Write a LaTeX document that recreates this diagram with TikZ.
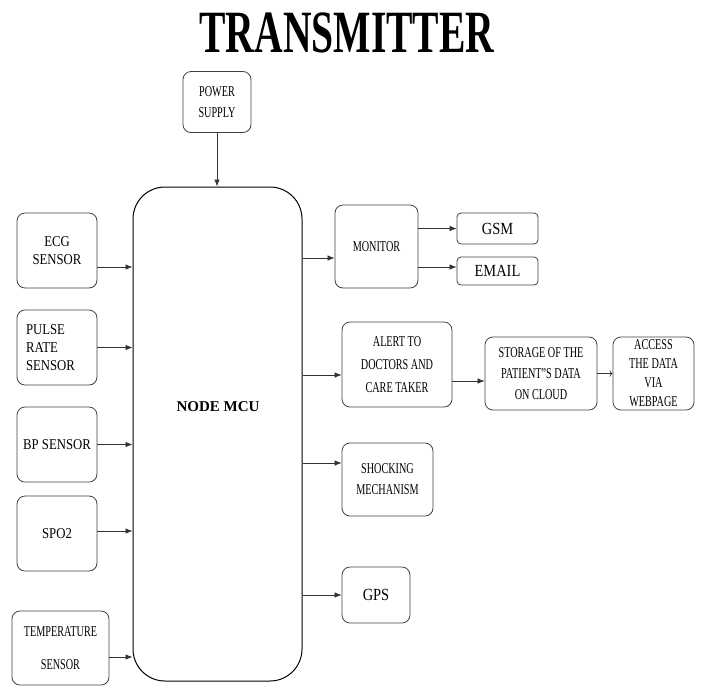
\documentclass[tikz,border=0pt]{standalone}
\usepackage{fontspec}
\setmainfont{Liberation Serif}
\newfontfamily\narrowfont[FakeStretch=0.68]{Liberation Serif}
\newfontfamily\sensorfont[FakeStretch=0.85]{Liberation Serif}
\newfontfamily\titlefont[FakeStretch=0.66]{Liberation Serif}
\usetikzlibrary{arrows.meta}

\begin{document}
\begin{tikzpicture}[x=1pt, y=-1pt,
		box/.style={draw=black!75, line width=0.8pt, rounded corners=8pt, inner sep=0pt, align=center,
			font=\narrowfont\fontsize{15}{21}\selectfont},
		sensorbox/.style={box, minimum width=80pt, minimum height=75pt,
			font=\sensorfont\fontsize{15}{18}\selectfont},
		bigbox/.style={box, rounded corners=4pt, minimum width=81pt,
			font=\sensorfont\fontsize{17}{20}\selectfont},
		arr/.style={-{Latex[length=7pt,width=5.5pt]}, draw=black!80, line width=0.7pt}]
		\useasboundingbox (0,0) rectangle (703,686);
		
		\node[font=\titlefont\bfseries\fontsize{60}{62}\selectfont] (title) at (347,33) {TRANSMITTER};
		
		\node[box, minimum width=68pt, minimum height=61pt] (power) at (217,102) {POWER\\SUPPLY};
		\node[draw, line width=1pt, rounded corners=32pt, minimum width=169pt, minimum height=494pt] (mcu) at (217.5,434) {};
		\node[font=\bfseries\fontsize{15}{18}\selectfont] (mcutext) at (218,407) {NODE MCU};
		
		\node[sensorbox] (ecg) at (57,250.5) {ECG\\SENSOR};
		\node[sensorbox, align=left, text width=62pt] (pulse) at (57,347.5) {PULSE\\RATE\\SENSOR};
		\node[sensorbox] (bp) at (57,444.5) {BP SENSOR};
		\node[sensorbox] (spo) at (57,533.5) {SPO2};
		\node[box, minimum width=97pt, minimum height=74pt] (temp) at (60.5,648) {TEMPERATURE\\[12pt]SENSOR};
		
		\node[box, minimum width=83pt, minimum height=83pt] (monitor) at (376.5,246.5) {MONITOR};
		\node[bigbox, minimum height=31pt] (gsm) at (497.5,228.5) {GSM};
		\node[bigbox, minimum height=28pt] (email) at (497.5,271) {EMAIL};
		\node[box, minimum width=110pt, minimum height=85pt, font=\narrowfont\fontsize{15}{23}\selectfont] (alert) at (397,364.5) {ALERT TO\\DOCTORS AND\\CARE TAKER};
		\node[box, minimum width=112pt, minimum height=73pt] (storage) at (541,373.5) {STORAGE OF THE\\PATIENT”S DATA\\ON CLOUD};
		\node[box, minimum width=81pt, minimum height=73pt, font=\narrowfont\fontsize{15}{19}\selectfont] (access) at (653.5,373.5) {ACCESS\\THE DATA\\VIA\\WEBPAGE};
		\node[box, minimum width=91pt, minimum height=73pt] (shock) at (387.5,479.5) {SHOCKING\\MECHANISM};
		\node[box, minimum width=68pt, minimum height=56pt, font=\sensorfont\fontsize{17}{20}\selectfont] (gps) at (376,595) {GPS};
		
		\draw[arr] (power.south) -- (power.south |- mcu.north);
		
		\draw[arr] ([yshift=-16.5pt]ecg.east) -- ([yshift=-16.5pt]ecg.east -| mcu.west);
		\draw[arr] (pulse.east) -- (pulse.east -| mcu.west);
		\draw[arr] (bp.east) -- (bp.east -| mcu.west);
		\draw[arr] ([yshift=2.5pt]spo.east) -- ([yshift=2.5pt]spo.east -| mcu.west);
		\draw[arr] ([yshift=-9pt]temp.east) -- ([yshift=-9pt]temp.east -| mcu.west);
		
		\draw[arr] ([yshift=-11.5pt]monitor.west -| mcu.east) -- ([yshift=-11.5pt]monitor.west);
		\draw[arr] (monitor.east |- gsm.west) -- (gsm.west);
		\draw[arr] ([yshift=4pt]monitor.east |- email.west) -- ([yshift=4pt]email.west);
		\draw[arr] ([yshift=-10.5pt]alert.west -| mcu.east) -- ([yshift=-10.5pt]alert.west);
		\draw[arr] ([yshift=-7.5pt]storage.west -| alert.east) -- ([yshift=-7.5pt]storage.west);
		\draw[->, draw=black!80, line width=0.7pt] (storage.east) -- (access.west);
		\draw[arr] ([yshift=16.5pt]shock.west -| mcu.east) -- ([yshift=16.5pt]shock.west);
		\draw[arr] (gps.west -| mcu.east) -- (gps.west);
	\end{tikzpicture}
\end{document}
